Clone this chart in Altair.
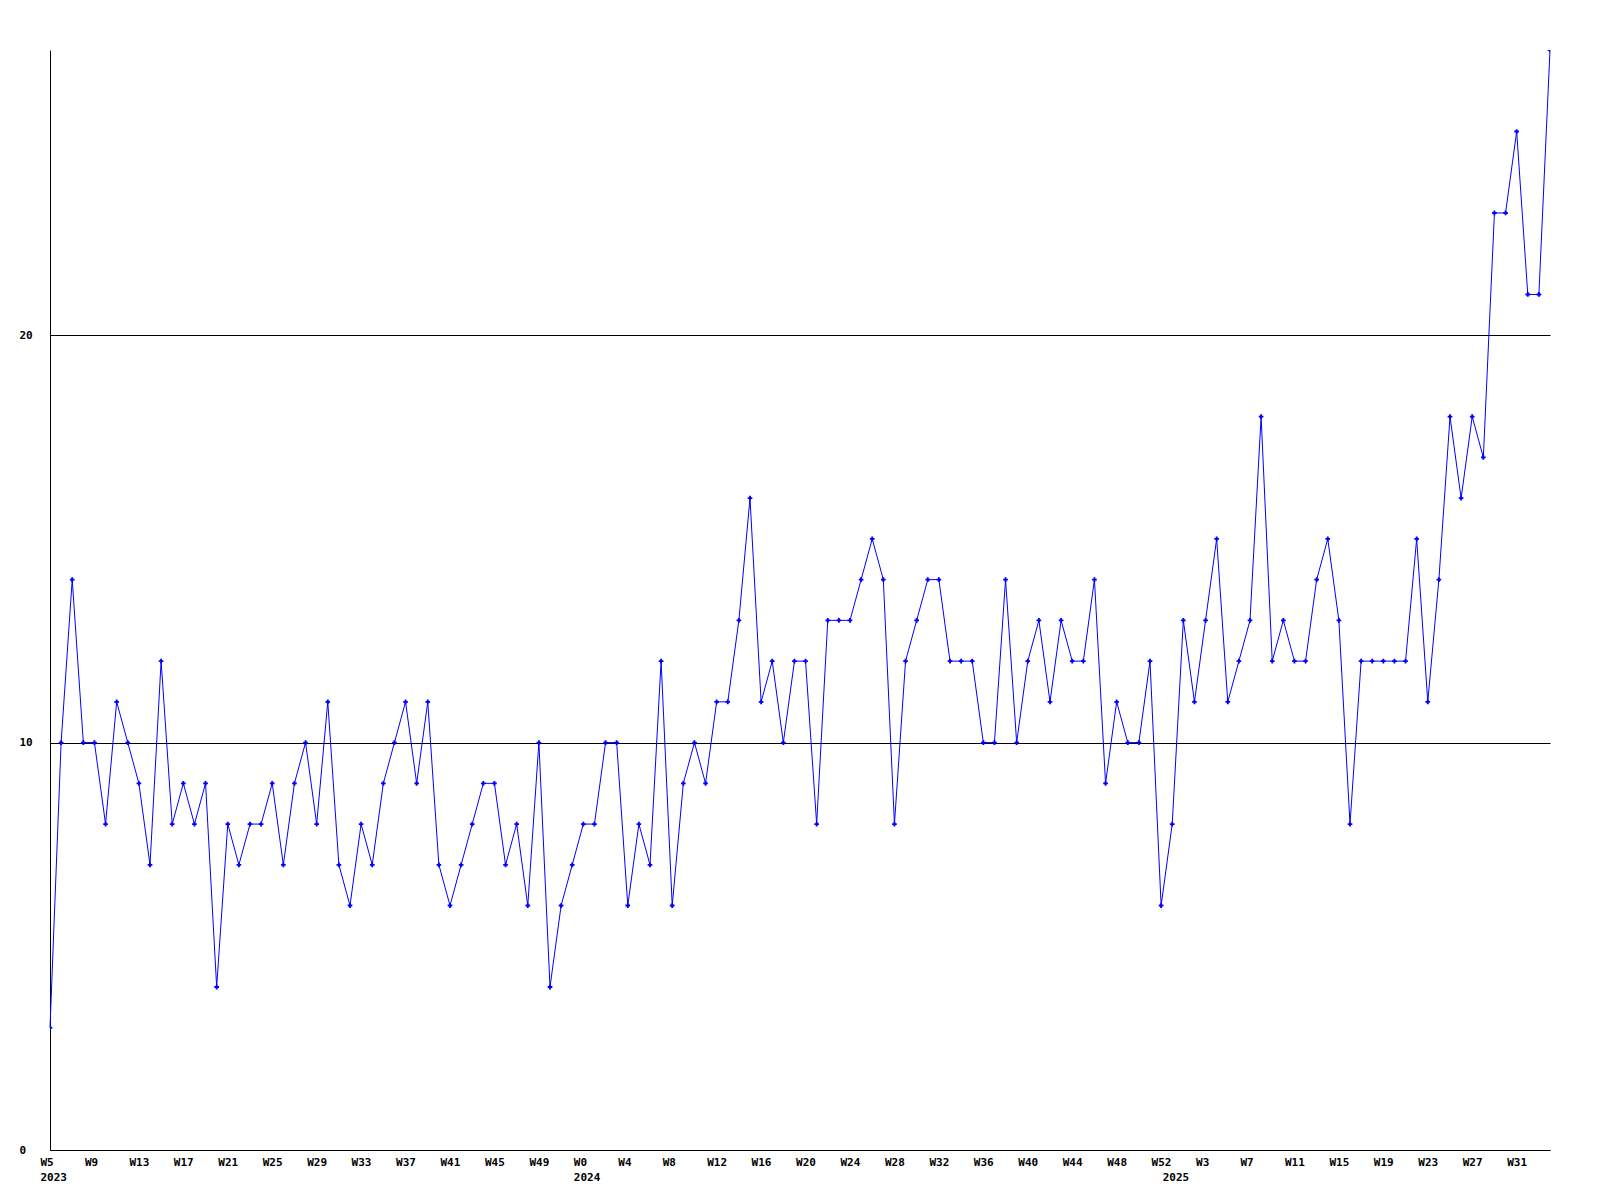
import altair as alt
import pandas as pd

# Week numbers (categories) per year
weeks_2023 = list(range(5, 53))
weeks_2024 = list(range(0, 53))
weeks_2025 = list(range(0, 35))

# Weekly values
vals_2023 = [3, 10, 14, 10, 10, 8, 11, 10, 9, 7,
             12, 8, 9, 8, 9, 4, 8, 7, 8, 8,
             9, 7, 9, 10, 8, 11, 7, 6, 8, 7,
             9, 10, 11, 9, 11, 7, 6, 7, 8, 9,
             9, 7, 8, 6, 10, 4, 6, 7]
vals_2024 = [8, 8, 10, 10, 6, 8, 7, 12, 6, 9,
             10, 9, 11, 11, 13, 16, 11, 12, 10, 12,
             12, 8, 13, 13, 13, 14, 15, 14, 8, 12,
             13, 14, 14, 12, 12, 12, 10, 10, 14, 10,
             12, 13, 11, 13, 12, 12, 14, 9, 11, 10,
             10, 12, 6]
vals_2025 = [8, 13, 11, 13, 15, 11, 12, 13, 18, 12,
             13, 12, 12, 14, 15, 13, 8, 12, 12, 12,
             12, 12, 15, 11, 14, 18, 16, 18, 17, 23,
             23, 25, 21, 21, 27]

y_ticks = [0, 10, 20]

rows = []
for year, weeks, vals in ((2023, weeks_2023, vals_2023),
                          (2024, weeks_2024, vals_2024),
                          (2025, weeks_2025, vals_2025)):
    for w, v in zip(weeks, vals):
        rows.append({"key": f"{year}-{w}", "value": v})
df = pd.DataFrame(rows)
keys = list(df["key"])

year_starts = [f"2023-{weeks_2023[0]}", f"2024-{weeks_2024[0]}", f"2025-{weeks_2025[0]}"]
tick_keys = keys[::4]
for k in year_starts:
    if k not in tick_keys:
        tick_keys.append(k)

ys_js = "[" + ",".join(f"'{k}'" for k in year_starts) + "]"
tk_js = "[" + ",".join(f"'{k}'" for k in keys[::4]) + "]"
label_expr = (
    f"indexof({ys_js}, datum.value) >= 0 ? "
    f"[(indexof({tk_js}, datum.value) >= 0 ? 'W' + split(datum.value, '-')[1] : ' '), split(datum.value, '-')[0]] : "
    "'W' + split(datum.value, '-')[1]"
)

FONT = "DejaVu Sans Mono"

x_enc = alt.X(
    "key:O",
    scale=alt.Scale(domain=keys, padding=0),
    axis=alt.Axis(
        values=tick_keys,
        labelExpr=label_expr,
        title=None,
        ticks=False,
        labelAngle=0,
        labelAlign="left",
        labelBaseline="top",
        labelOffset=-10,
        labelPadding=6,
        labelLineHeight=15,
        labelFont=FONT,
        labelFontWeight="bold",
        labelFontSize=11,
        labelColor="black",
        labelOverlap=False,
        labelFlush=False,
        domainColor="black",
        domainWidth=1,
        grid=False,
    ),
)
y_enc = alt.Y(
    "value:Q",
    scale=alt.Scale(domain=[0, 27], nice=False, zero=True),
    axis=alt.Axis(
        values=y_ticks,
        format="d",
        title=None,
        ticks=False,
        tickSize=0,
        labelAlign="left",
        labelBaseline="middle",
        labelPadding=31,
        labelFont=FONT,
        labelFontWeight="bold",
        labelFontSize=11,
        labelColor="black",
        domainColor="black",
        domainWidth=1,
        grid=True,
        gridColor="black",
        gridOpacity=1,
        gridWidth=1,
    ),
)

base = alt.Chart(df).encode(x=x_enc, y=y_enc)
line = base.mark_line(color="#0000FF", strokeWidth=1, clip=False)
pts = base.mark_point(shape="cross", filled=True, size=22, color="#0000FF", opacity=1, clip=True)

chart = (
    alt.layer(line, pts)
    .properties(
        width=1500,
        height=1100,
        autosize=alt.AutoSizeParams(type="none"),
        padding={"left": 42, "top": 42, "right": 40, "bottom": 40},
        background="white",
    )
    .configure_view(stroke=None)
)

chart.save("out.html", embed_options={"renderer": "svg", "actions": False})
